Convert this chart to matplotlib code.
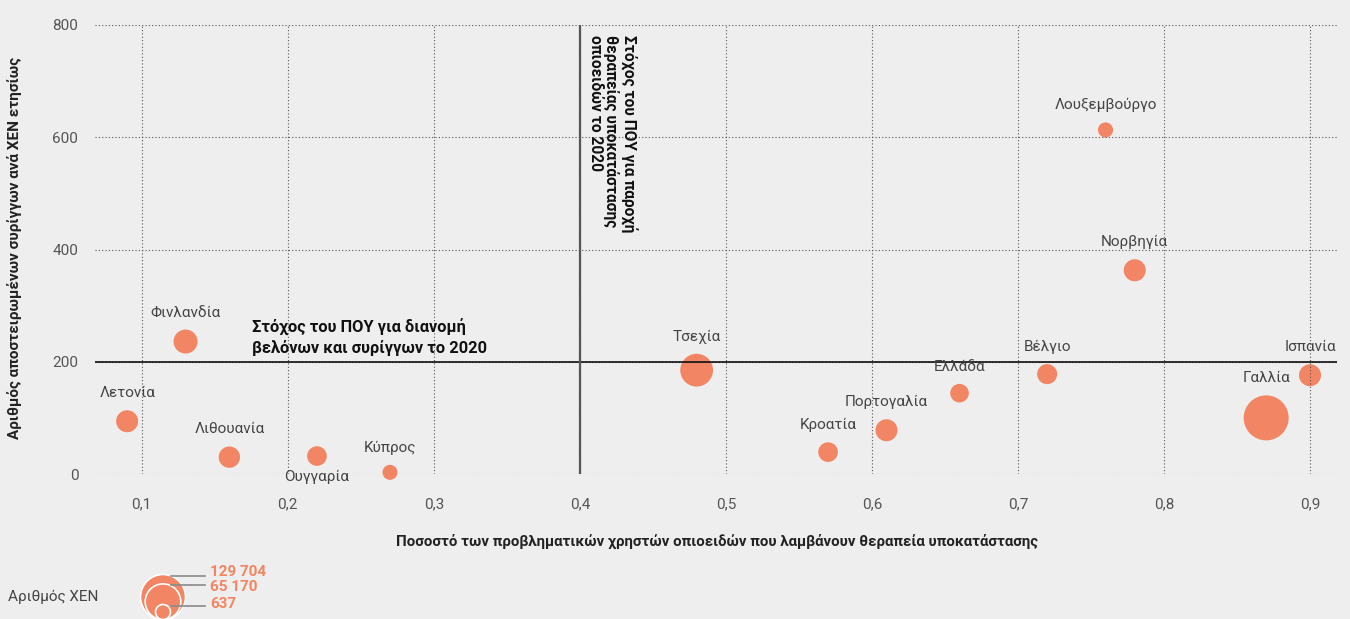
import numpy as np
import matplotlib
matplotlib.use("Agg")
import matplotlib.pyplot as plt
from matplotlib.patches import Circle

plt.rcParams['font.family'] = ['Roboto', 'DejaVu Sans']

# ---------------- data ----------------
countries = ["Λετονία", "Φινλανδία", "Λιθουανία", "Ουγγαρία", "Κύπρος", "Τσεχία",
             "Κροατία", "Πορτογαλία", "Ελλάδα", "Βέλγιο", "Λουξεμβούργο", "Νορβηγία",
             "Γαλλία", "Ισπανία"]
treatment_share = [0.09, 0.13, 0.16, 0.22, 0.27, 0.48, 0.57, 0.61, 0.66, 0.72, 0.76, 0.78, 0.87, 0.90]
syringes_per_pwid = [94, 236, 30, 32, 3, 185, 39, 78, 144, 178, 613, 363, 100, 176]
pwid_count = [10700, 15800, 9300, 5900, 637, 50000, 5900, 10700, 4300, 6600, 700, 10700, 129704, 10700]
label_below = ["Ουγγαρία"]

legend_values = [129704, 65170, 637]
legend_labels = ["129 704", "65 170", "637"]

x_ticks = [0.1, 0.2, 0.3, 0.4, 0.5, 0.6, 0.7, 0.8, 0.9]
x_tick_labels = ["0,1", "0,2", "0,3", "0,4", "0,5", "0,6", "0,7", "0,8", "0,9"]
y_ticks = [0, 200, 400, 600, 800]

who_syringe_target = 200
who_ost_target = 0.4

# ---------------- style ----------------
BG = "#EEEEEE"
BUBBLE = "#F28563"
DPI = 100
PX2PT = 72.0 / DPI

R_MIN, R_MAX = 7.5, 22.5
N_MIN, N_MAX = min(legend_values), max(legend_values)


def radius_px(n):
    n = np.asarray(n, dtype=float)
    return R_MIN + (R_MAX - R_MIN) * (np.sqrt(n) - np.sqrt(N_MIN)) / (np.sqrt(N_MAX) - np.sqrt(N_MIN))


fig = plt.figure(figsize=(13.5, 6.19), dpi=DPI, facecolor=BG)
ax = fig.add_axes([95 / 1350, 1 - 474 / 619, (1337 - 95) / 1350, (474 - 25) / 619])
ax.set_facecolor(BG)
ax.set_xlim(0.068, 0.9185)
ax.set_ylim(0, 800)
for s in ax.spines.values():
    s.set_visible(False)

ax.set_xticks(x_ticks)
ax.set_xticklabels(x_tick_labels)
ax.set_yticks(y_ticks)
ax.tick_params(axis='both', length=0, labelsize=11, labelcolor="#555555")
ax.tick_params(axis='x', pad=17)
ax.tick_params(axis='y', pad=12)
ax.grid(True, linestyle=(0, (1, 2)), color="#555555", linewidth=0.8)
ax.set_axisbelow(False)

r = radius_px(pwid_count)
sizes = (2 * r * PX2PT) ** 2
ax.scatter(treatment_share, syringes_per_pwid, s=sizes, color=BUBBLE, edgecolors='none',
           zorder=2, clip_on=False)

ax.axhline(who_syringe_target, color="#111111", lw=1.2, zorder=3)
ax.axvline(who_ost_target, color="#555555", lw=1.6, zorder=3)

for name, x, y, rad in zip(countries, treatment_share, syringes_per_pwid, r):
    if name in label_below:
        off = -(rad + 11) * PX2PT
    else:
        off = (rad + 17) * PX2PT
    ax.annotate(name, (x, y), xytext=(0, off), textcoords='offset points',
                ha='center', va='center', fontsize=11, color="#444444", zorder=4,
                annotation_clip=False)

ax.text(0.1755, 211, "Στόχος του ΠΟΥ για διανομή\nβελόνων και συρίγγων το 2020",
        fontsize=11.8, fontweight='bold', color="#111111", ha='left', va='bottom',
        linespacing=1.3, zorder=4)
ax.text(0.4055, 782, "Στόχος του ΠΟΥ για παροχή\nθεραπείας υποκατάστασης\nοπιοειδών το 2020",
        rotation=-90, fontsize=11.2, fontweight='bold', color="#111111", ha='left', va='top',
        linespacing=1.05, zorder=4)

ax.set_ylabel("Αριθμός αποστειρωμένων συρίγγων ανά ΧΕΝ ετησίως", fontsize=11,
              fontweight='bold', color="#222222")
ax.yaxis.set_label_coords(-(95 - 15) / (1337 - 95), (474 - 248) / (474 - 25))
ax.yaxis.label.set_va('center')
ax.set_xlabel("Ποσοστό των προβληματικών χρηστών οπιοειδών που λαμβάνουν θεραπεία υποκατάστασης",
              fontsize=10.8, fontweight='bold', color="#222222")
ax.xaxis.set_label_coords((717 - 95) / (1337 - 95), -(541 - 474) / (474 - 25))
ax.xaxis.label.set_va('center')

# ---------------- size legend (pixel overlay) ----------------
lax = fig.add_axes([0, 0, 1, 1], facecolor='none')
lax.set_xlim(0, 1350)
lax.set_ylim(619, 0)
lax.axis('off')
lax.text(8, 597, "Αριθμός ΧΕΝ", fontsize=11, color="#444444", ha='left', va='center')
cx, base = 163, 619.5
label_y = [572, 587, 604]
for val in legend_values:
    rad = float(radius_px(val))
    lax.add_patch(Circle((cx, base - rad), rad, facecolor=BUBBLE, edgecolor='white', lw=1.2,
                         clip_on=False))
for val, lab, ly in zip(legend_values, legend_labels, label_y):
    rad = float(radius_px(val))
    top = base - 2 * rad
    lax.plot([cx + 8, 205], [top + 1.5, top + 1.5], color="#8a8a8a", lw=1.2, clip_on=False)
    lax.text(210, ly, lab, fontsize=11, fontweight='bold', color=BUBBLE, ha='left', va='center')

fig.savefig("out.png", dpi=DPI, facecolor=BG)
